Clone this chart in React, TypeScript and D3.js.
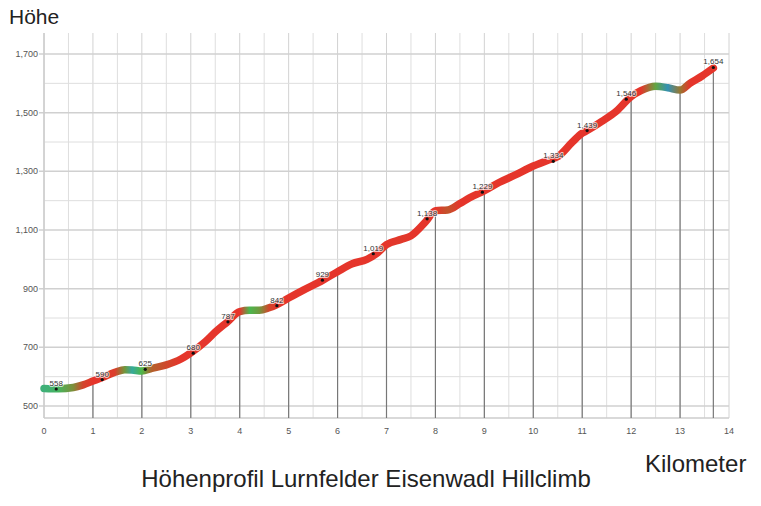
import React from "react";
import * as d3 from "d3";

// Elevation profile (km, metres)
const profileKm = [0, 0.3, 0.6, 0.8, 1.0, 1.2, 1.45, 1.65, 1.8, 2.0, 2.2, 2.5, 2.8, 3.0, 3.3, 3.5, 3.75, 4.0, 4.2, 4.4, 4.6, 4.75, 5.0, 5.3, 5.7, 6.0, 6.3, 6.6, 6.8, 7.0, 7.3, 7.5, 7.8, 8.0, 8.25, 8.5, 8.7, 9.0, 9.3, 9.6, 10.0, 10.3, 10.5, 10.8, 11.0, 11.1, 11.4, 11.7, 12.0, 12.2, 12.5, 12.75, 13.0, 13.2, 13.45, 13.68];
const profileElev = [560, 559, 563, 572, 585, 598, 615, 624, 623, 619, 628, 640, 660, 681, 720, 752, 787, 822, 826, 826, 835, 845, 868, 895, 929, 958, 985, 1000, 1020, 1050, 1068, 1080, 1128, 1166, 1168, 1190, 1210, 1234, 1262, 1285, 1318, 1338, 1350, 1400, 1430, 1439, 1470, 1505, 1555, 1575, 1590, 1585, 1577, 1600, 1625, 1652];

// Labelled points
const labelKm = [0.25, 1.19, 2.07, 3.05, 3.76, 4.76, 5.69, 6.73, 7.83, 8.96, 10.41, 11.1, 11.9, 13.68];
const labelElev = [558, 590, 625, 680, 787, 842, 929, 1019, 1138, 1229, 1334, 1439, 1546, 1654];

const yTicks = [500, 700, 900, 1100, 1300, 1500, 1700];
const yMinor = [600, 800, 1000, 1200, 1400, 1600];
const xTicks = [0, 1, 2, 3, 4, 5, 6, 7, 8, 9, 10, 11, 12, 13, 14];
const xHalf = [0.5, 1.5, 2.5, 3.5, 4.5, 5.5, 6.5, 7.5, 8.5, 9.5, 10.5, 11.5, 12.5, 13.5];

const fmt = d3.format(",");

export default function App() {
  const x = d3.scaleLinear().domain([0, 14]).range([44, 729]);
  const y = d3.scaleLinear().domain([500, 1700]).range([406, 54]);
  const top = 33;
  const bottom = 418;

  const pts: [number, number][] = profileKm.map((k, i) => [k, profileElev[i]]);
  const line = d3
    .line<[number, number]>()
    .x((d) => x(d[0]))
    .y((d) => y(d[1]))
    .curve(d3.curveMonotoneX);

  const slopeColor = d3
    .scaleLinear<string>()
    .domain([-40, -16, 12, 38, 62])
    .range(["#2f6fd0", "#35a9a0", "#4cb848", "#a86a2c", "#e5352b"])
    .clamp(true);

  const slopes = pts.map((p, i) => {
    const a = pts[Math.max(0, i - 1)];
    const b = pts[Math.min(pts.length - 1, i + 1)];
    return (b[1] - a[1]) / (b[0] - a[0]);
  });

  const x0 = x(profileKm[0]);
  const x1 = x(profileKm[profileKm.length - 1]);

  const dropPts = pts.filter(
    (p, i) => (Number.isInteger(p[0]) && p[0] > 0) || i === pts.length - 1
  );

  const font = "'Liberation Sans', Arial, sans-serif";

  return (
    <svg
      width={761}
      height={506}
      style={{ position: "absolute", left: 0, top: 0, background: "#fff" }}
      fontFamily={font}
    >
      <defs>
        <linearGradient id="slopeGrad" gradientUnits="userSpaceOnUse" x1={x0} x2={x1} y1={0} y2={0}>
          {pts.map((p, i) => (
            <stop key={i} offset={(x(p[0]) - x0) / (x1 - x0)} stopColor={slopeColor(slopes[i])} />
          ))}
        </linearGradient>
      </defs>

      {/* grid */}
      {xHalf.map((k) => (
        <line key={"h" + k} x1={x(k)} x2={x(k)} y1={top} y2={bottom} stroke="#dedede" strokeWidth={1} />
      ))}
      {xTicks.map((k) => (
        <line key={"v" + k} x1={x(k)} x2={x(k)} y1={top} y2={bottom} stroke="#d2d2d2" strokeWidth={1} />
      ))}
      {yMinor.map((v) => (
        <line key={"m" + v} x1={x(0)} x2={x(14)} y1={y(v)} y2={y(v)} stroke="#dedede" strokeWidth={1} />
      ))}
      {yTicks.map((v) => (
        <line key={"t" + v} x1={x(0) - 5} x2={x(14)} y1={y(v)} y2={y(v)} stroke="#d0d0d0" strokeWidth={1.5} />
      ))}
      <line x1={x(0)} x2={x(14)} y1={bottom} y2={bottom} stroke="#cccccc" strokeWidth={1.5} />
      <line x1={x(0)} x2={x(0)} y1={top} y2={bottom} stroke="#cccccc" strokeWidth={1.5} />

      {/* drop lines */}
      {dropPts.map((p, i) => (
        <line key={"d" + i} x1={x(p[0])} x2={x(p[0])} y1={y(p[1])} y2={bottom} stroke="#777" strokeWidth={1.2} />
      ))}

      {/* tick labels */}
      {yTicks.map((v) => (
        <text key={"yl" + v} x={x(0) - 6} y={y(v)} dy="0.35em" textAnchor="end" fontSize={9} fill="#555">
          {fmt(v)}
        </text>
      ))}
      {xTicks.map((k) => (
        <text key={"xl" + k} x={x(k)} y={431} dy="0.35em" textAnchor="middle" fontSize={9} fill="#555">
          {k}
        </text>
      ))}

      {/* profile */}
      <path d={line(pts) || ""} fill="none" stroke="url(#slopeGrad)" strokeWidth={7.5} strokeLinecap="round" strokeLinejoin="round" />

      {/* labels */}
      {labelKm.map((k, i) => (
        <g key={"lb" + i}>
          <circle cx={x(k)} cy={y(labelElev[i])} r={1.6} fill="#111" />
          <text
            x={x(k)}
            y={y(labelElev[i]) - 3}
            textAnchor="middle"
            fontSize={8}
            fill="#333"
            stroke="rgba(255,255,255,0.7)"
            strokeWidth={2}
            paintOrder="stroke"
          >
            {fmt(labelElev[i])}
          </text>
        </g>
      ))}

      {/* titles */}
      <text x={9} y={24} fontSize={21} fill="#222">Höhe</text>
      <text x={645} y={472} fontSize={24} fill="#222">Kilometer</text>
      <text x={366} y={487} fontSize={24} fill="#222" textAnchor="middle">
        Höhenprofil Lurnfelder Eisenwadl Hillclimb
      </text>
    </svg>
  );
}
